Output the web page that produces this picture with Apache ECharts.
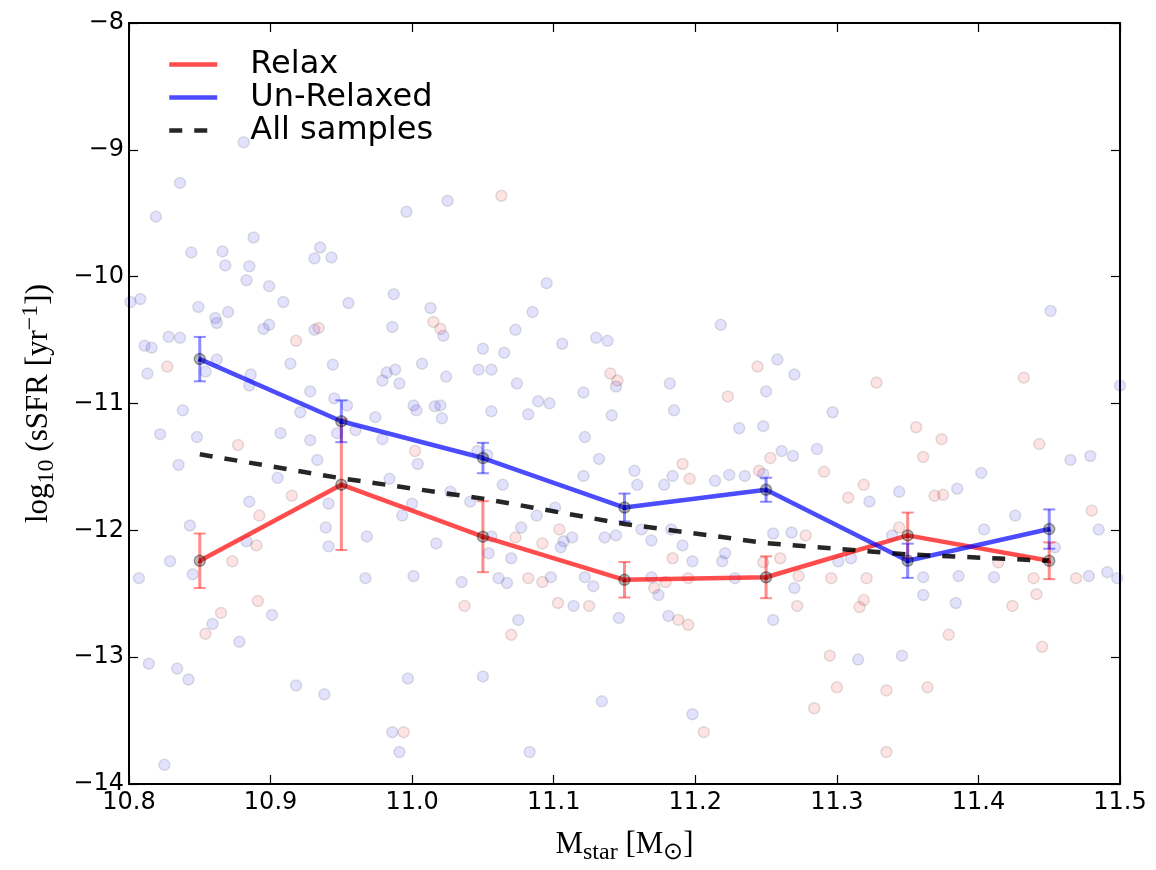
<!DOCTYPE html>
<html>
<head>
<meta charset="utf-8">
<title>sSFR vs stellar mass</title>
<script src="https://cdn.jsdelivr.net/npm/echarts@6/dist/echarts.min.js"></script>
<style>
  html, body { margin: 0; padding: 0; background: #fff; }
  #chart { width: 1156px; height: 870px; }
</style>
</head>
<body>
<div id="chart"></div>
<script>
// Axis ranges and tick spacing
const xRange = [10.8, 11.5];
const yRange = [-14, -8];
const xStep = 0.1;
const yStep = 1;

// Mass bins (log10 Mstar) and the binned median sSFR with errors
const binCenters = [10.85, 10.95, 11.05, 11.15, 11.25, 11.35, 11.45];
const relaxMean = [-12.24, -11.64, -12.05, -12.39, -12.37, -12.04, -12.24];
const relaxErr = [0.215, 0.515, 0.28, 0.14, 0.165, 0.18, 0.145];
const unrelaxedMean = [-10.65, -11.14, -11.43, -11.82, -11.68, -12.24, -11.99];
const unrelaxedErr = [0.175, 0.165, 0.12, 0.11, 0.095, 0.135, 0.155];
const allMean = [-11.40, -11.59, -11.75, -11.95, -12.10, -12.19, -12.24];

// Individual galaxies: [log10 Mstar, log10 sSFR]
const unrelaxedPoints = [
  [10.881,-8.940],[10.836,-9.261],[10.819,-9.527],[10.996,-9.488],[11.025,-9.402],[10.888,-9.691],
  [10.844,-9.809],[10.866,-9.801],[10.868,-9.911],[10.885,-9.918],[10.931,-9.856],[10.935,-9.770],
  [10.943,-9.848],[10.883,-10.028],[10.899,-10.075],[11.095,-10.051],[10.801,-10.200],[10.808,-10.177],
  [10.849,-10.239],[10.870,-10.279],[10.861,-10.326],[10.862,-10.365],[10.909,-10.200],[10.955,-10.208],
  [10.987,-10.138],[11.013,-10.247],[11.085,-10.279],[11.022,-10.466],[10.986,-10.396],[11.073,-10.419],
  [10.895,-10.412],[10.899,-10.380],[10.931,-10.419],[10.811,-10.545],[10.816,-10.560],[10.828,-10.474],
  [10.836,-10.482],[11.050,-10.568],[11.065,-10.600],[11.106,-10.529],[11.130,-10.482],[10.862,-10.654],
  [10.813,-10.764],[10.854,-10.748],[10.914,-10.686],[10.944,-10.694],[11.007,-10.686],[10.982,-10.756],
  [10.988,-10.733],[10.979,-10.819],[10.991,-10.842],[11.024,-10.788],[11.047,-10.733],[11.056,-10.733],
  [11.074,-10.842],[11.121,-10.913],[10.886,-10.772],[10.885,-10.858],[10.928,-10.905],[10.838,-11.054],
  [10.921,-11.069],[10.945,-10.960],[10.954,-11.015],[11.001,-11.015],[11.003,-11.054],[11.016,-11.022],
  [11.020,-11.015],[11.021,-11.116],[11.056,-11.062],[11.089,-10.983],[11.097,-10.999],[11.082,-11.085],
  [10.974,-11.108],[10.822,-11.242],[10.848,-11.265],[10.907,-11.234],[10.928,-11.289],[10.947,-11.234],
  [10.960,-11.210],[10.979,-11.281],[11.122,-11.265],[10.835,-11.484],[10.933,-11.445],[11.004,-11.477],
  [11.046,-11.375],[11.053,-11.406],[11.132,-11.437],[11.138,-10.506],[11.218,-10.380],[11.451,-10.271],
  [11.144,-10.866],[11.182,-10.842],[11.258,-10.654],[11.270,-10.772],[11.250,-10.905],[11.500,-10.858],
  [11.141,-11.093],[11.185,-11.054],[11.297,-11.069],[11.231,-11.195],[11.248,-11.179],[11.261,-11.375],
  [11.269,-11.414],[11.286,-11.359],[11.465,-11.445],[11.479,-11.414],
  [10.905,-11.586],[10.984,-11.594],[11.064,-11.641],[11.121,-11.571],[11.157,-11.531],[11.159,-11.641],
  [11.178,-11.641],[11.184,-11.571],[11.214,-11.610],[11.224,-11.563],[11.235,-11.571],[11.248,-11.555],
  [11.323,-11.774],[11.344,-11.696],[11.385,-11.672],[11.402,-11.547],[11.426,-11.884],[11.485,-11.994],
  [10.941,-11.790],[10.885,-11.774],[10.843,-11.962],[10.993,-11.884],[11.000,-11.790],[11.027,-11.696],
  [11.041,-11.774],[11.088,-11.884],[11.101,-11.821],[11.077,-11.978],[11.113,-12.056],[11.107,-12.087],
  [11.105,-12.134],[11.056,-12.048],[10.968,-12.048],[10.939,-11.978],[10.941,-12.126],[10.883,-12.087],
  [10.845,-12.346],[10.829,-12.244],[10.807,-12.377],[10.967,-12.377],[11.001,-12.361],[11.017,-12.103],
  [11.035,-12.408],[11.054,-12.181],[11.070,-12.220],[11.061,-12.377],[11.067,-12.416],[11.098,-12.369],
  [11.122,-12.369],[11.128,-12.440],[11.136,-12.056],[11.144,-12.040],[11.169,-12.080],[11.162,-11.993],
  [11.183,-11.993],[11.191,-12.119],[11.198,-12.244],[11.169,-12.369],[11.174,-12.510],[11.219,-12.244],
  [11.228,-12.377],[11.221,-12.181],[11.255,-12.025],[11.268,-12.017],[11.301,-12.244],[11.310,-12.220],
  [11.339,-12.040],[11.361,-12.369],[11.386,-12.361],[11.411,-12.369],[11.454,-12.134],[11.478,-12.361],
  [11.491,-12.330],[11.498,-12.377],[11.404,-11.993],[11.270,-12.455],[11.255,-12.706],[11.361,-12.510],
  [11.384,-12.573],[11.114,-12.596],[11.075,-12.706],[11.146,-12.691],[11.181,-12.675],[10.859,-12.738],
  [10.901,-12.667],[10.878,-12.879],[10.814,-13.051],[10.834,-13.090],[10.842,-13.176],[10.918,-13.223],
  [10.938,-13.293],[10.997,-13.168],[11.050,-13.152],[11.134,-13.348],[11.198,-13.450],[11.315,-13.019],
  [11.346,-12.988],[10.986,-13.591],[10.991,-13.748],[11.083,-13.748],[10.825,-13.849]
];

const relaxPoints = [
  [11.063,-9.362],[11.015,-10.357],[11.020,-10.412],[10.934,-10.404],[10.918,-10.506],[10.827,-10.709],
  [10.877,-11.328],[11.002,-11.375],[11.140,-10.764],[11.145,-10.819],[11.244,-10.709],[11.223,-10.944],
  [11.328,-10.835],[11.432,-10.796],[11.356,-11.187],[11.374,-11.281],[11.443,-11.320],[11.253,-11.430],
  [11.361,-11.422],[11.191,-11.477],[11.291,-11.539],[11.196,-11.594],[11.245,-11.531],[11.319,-11.641],
  [11.308,-11.743],[11.369,-11.727],[11.375,-11.720],[11.480,-11.845],[10.915,-11.727],[10.892,-11.884],
  [11.104,-11.993],[11.092,-12.103],[11.073,-12.056],[10.890,-12.119],[10.873,-12.244],[11.082,-12.377],
  [11.092,-12.408],[11.184,-12.220],[11.179,-12.408],[11.195,-12.377],[11.171,-12.455],[11.248,-12.252],
  [11.260,-12.220],[11.278,-12.040],[11.273,-12.361],[11.296,-12.377],[11.321,-12.377],[11.344,-11.978],
  [11.414,-12.252],[11.439,-12.377],[11.469,-12.377],[11.272,-12.596],[11.319,-12.550],[11.316,-12.605],
  [11.424,-12.596],[11.441,-12.503],[11.379,-12.824],[11.445,-12.918],[11.103,-12.573],[11.125,-12.596],
  [11.070,-12.824],[11.188,-12.706],[11.195,-12.745],[11.037,-12.596],[10.891,-12.557],[10.865,-12.651],
  [10.854,-12.816],[11.206,-13.591],[11.295,-12.988],[11.300,-13.238],[11.335,-13.262],[11.364,-13.238],
  [11.284,-13.403],[11.335,-13.748],[10.994,-13.591]
];

const RED = 'rgba(255,0,0,0.7)';
const BLUE = 'rgba(0,0,255,0.7)';
const TICK_FONT = 'DejaVu Sans';
const SERIF = 'Liberation Serif';

const zip = (xs, ys) => xs.map((x, i) => [x, ys[i]]);
const minusSign = v => String(v).replace('-', '\u2212');

function errorBars(name, means, errs, color) {
  return {
    type: 'custom',
    name: name,
    silent: true,
    z: 4,
    data: binCenters.map((x, i) => [x, means[i] - errs[i], means[i] + errs[i]]),
    renderItem: function (params, api) {
      const lo = api.coord([api.value(0), api.value(1)]);
      const hi = api.coord([api.value(0), api.value(2)]);
      const half = 6;
      return {
        type: 'group',
        children: [
          { type: 'line', shape: { x1: lo[0], y1: lo[1], x2: hi[0], y2: hi[1] },
            style: { stroke: color, lineWidth: 3 } },
          { type: 'line', shape: { x1: lo[0] - half, y1: lo[1], x2: lo[0] + half, y2: lo[1] },
            style: { stroke: color, lineWidth: 2 } },
          { type: 'line', shape: { x1: hi[0] - half, y1: hi[1], x2: hi[0] + half, y2: hi[1] },
            style: { stroke: color, lineWidth: 2 } }
        ]
      };
    }
  };
}

function pointCloud(name, pts, fill) {
  return {
    type: 'scatter',
    name: name,
    data: pts,
    symbol: 'circle',
    symbolSize: 11,
    silent: true,
    z: 1,
    itemStyle: { color: fill, borderColor: 'rgba(0,0,0,0.15)', borderWidth: 1.5 }
  };
}

function binMarkers(name, means, tri) {
  return [
    {
      type: 'scatter', name: name + ' bins', data: zip(binCenters, means),
      symbol: 'circle', symbolSize: 11, silent: true, z: 6,
      itemStyle: { color: 'rgba(0,0,0,0.32)', borderColor: 'rgba(0,0,0,0.45)', borderWidth: 1.5 }
    },
    {
      type: 'scatter', name: name + ' bin centres', data: zip(binCenters, means),
      symbol: 'triangle', symbolSize: 5, silent: true, z: 7,
      itemStyle: { color: tri }
    }
  ];
}

const axisLineStyle = { color: '#000', width: 2 };
const tickStyle = { color: '#000', width: 1.2 };

const mainStyle = { fontSize: 31, lineHeight: 40, fontFamily: SERIF, color: '#000' };
const subStyle = { fontSize: 24, lineHeight: 24, verticalAlign: 'bottom', fontFamily: SERIF, color: '#000' };
const supStyle = { fontSize: 24, lineHeight: 24, verticalAlign: 'top', fontFamily: SERIF, color: '#000' };

const chart = echarts.init(document.getElementById('chart'), null, { renderer: 'canvas' });

chart.setOption({
  animation: false,
  backgroundColor: '#fff',
  grid: { left: 129, right: 36, top: 23, bottom: 81, containLabel: false },
  legend: {
    data: ['Relax', 'Un-Relaxed', 'All samples'],
    orient: 'vertical',
    left: 162,
    top: 43,
    itemWidth: 48,
    itemHeight: 14,
    itemGap: 0,
    selectedMode: false,
    itemStyle: { opacity: 0 },
    lineStyle: { width: 4.5 },
    textStyle: { fontSize: 32, lineHeight: 33, fontFamily: TICK_FONT, color: '#000', padding: [0, 0, 0, 28] }
  },
  xAxis: [
    {
      type: 'value', min: xRange[0], max: xRange[1], interval: xStep, position: 'bottom',
      axisLine: { show: true, onZero: false, lineStyle: axisLineStyle },
      axisTick: { show: true, inside: true, length: 9, lineStyle: tickStyle },
      axisLabel: { fontSize: 24, color: '#000', fontFamily: TICK_FONT, margin: 7,
                   formatter: v => v.toFixed(1) },
      splitLine: { show: false },
      name: '{m|M}{s|star}{m| [M}{s|\u2299}{m|]}',
      nameLocation: 'middle',
      nameGap: 41,
      nameTextStyle: { rich: { m: mainStyle, s: subStyle } }
    },
    {
      type: 'value', min: xRange[0], max: xRange[1], interval: xStep, position: 'top',
      axisLine: { show: true, onZero: false, lineStyle: axisLineStyle },
      axisTick: { show: true, inside: true, length: 9, lineStyle: tickStyle },
      axisLabel: { show: false },
      splitLine: { show: false }
    }
  ],
  yAxis: [
    {
      type: 'value', min: yRange[0], max: yRange[1], interval: yStep, position: 'left',
      axisLine: { show: true, onZero: false, lineStyle: axisLineStyle },
      axisTick: { show: true, inside: true, length: 9, lineStyle: tickStyle },
      axisLabel: { fontSize: 24, color: '#000', fontFamily: TICK_FONT, margin: 5, formatter: minusSign },
      splitLine: { show: false },
      name: '{m|log}{s|10}{m| (sSFR [yr}{p|\u22121}{m|])}',
      nameLocation: 'middle',
      nameRotate: 90,
      nameGap: 70,
      nameTextStyle: { rich: { m: mainStyle, s: subStyle, p: supStyle } }
    },
    {
      type: 'value', min: yRange[0], max: yRange[1], interval: yStep, position: 'right',
      axisLine: { show: true, onZero: false, lineStyle: axisLineStyle },
      axisTick: { show: true, inside: true, length: 9, lineStyle: tickStyle },
      axisLabel: { show: false },
      splitLine: { show: false }
    }
  ],
  series: [
    pointCloud('Un-Relaxed galaxies', unrelaxedPoints, 'rgba(0,0,255,0.14)'),
    pointCloud('Relax galaxies', relaxPoints, 'rgba(255,0,0,0.14)'),
    errorBars('Relax errors', relaxMean, relaxErr, 'rgba(255,0,0,0.45)'),
    errorBars('Un-Relaxed errors', unrelaxedMean, unrelaxedErr, 'rgba(0,0,255,0.45)'),
    {
      type: 'line', name: 'Relax', data: zip(binCenters, relaxMean),
      symbol: 'none', z: 5, silent: true,
      itemStyle: { color: RED },
      lineStyle: { color: RED, width: 4.5 }
    },
    {
      type: 'line', name: 'Un-Relaxed', data: zip(binCenters, unrelaxedMean),
      symbol: 'none', z: 5, silent: true,
      itemStyle: { color: BLUE },
      lineStyle: { color: BLUE, width: 4.5 }
    },
    {
      type: 'line', name: 'All samples', data: zip(binCenters, allMean),
      symbol: 'none', z: 5, silent: true,
      itemStyle: { color: 'rgba(0,0,0,0.85)' },
      lineStyle: { color: 'rgba(0,0,0,0.85)', width: 4.5, type: [13, 12] }
    },
    ...binMarkers('Relax', relaxMean, '#b00000'),
    ...binMarkers('Un-Relaxed', unrelaxedMean, '#0000b0')
  ]
});
</script>
</body>
</html>
